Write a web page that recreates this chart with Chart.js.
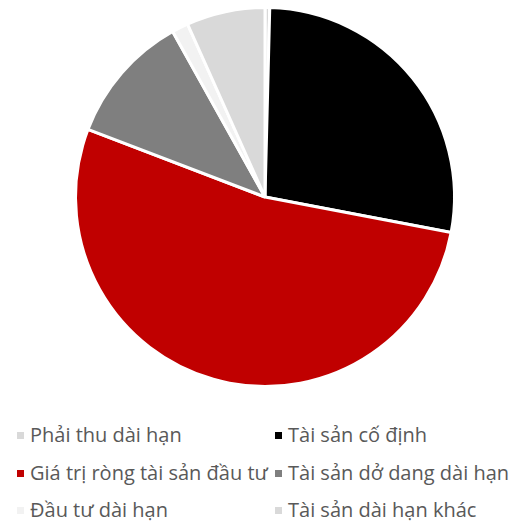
<!DOCTYPE html>
<html>
<head>
<meta charset="utf-8">
<script src="https://cdn.jsdelivr.net/npm/chart.js@4/dist/chart.umd.min.js"></script>
<style>
  body { margin: 0; background: #fff; width: 517px; height: 524px; overflow: hidden; }
  #wrap { position: relative; width: 517px; height: 394px; }
  #legend { position: absolute; left: 17px; top: 421px; width: 500px;
            font-family: "Open Sans", sans-serif; font-size: 20px; color: #595959; }
  .item { position: absolute; white-space: nowrap; line-height: 28px; }
  .box { display: inline-block; width: 7px; height: 7px; margin-right: 6px; vertical-align: 3px; }
</style>
</head>
<body>
<div id="wrap"><canvas id="pie_chart"></canvas></div>
<div id="legend"></div>
<script>
var categories = ["Phải thu dài hạn", "Tài sản cố định", "Giá trị ròng tài sản đầu tư",
                  "Tài sản dở dang dài hạn", "Đầu tư dài hạn", "Tài sản dài hạn khác"];
var shares = [0.4, 27.6, 52.8, 11.1, 1.4, 6.7];
var colors = ["#D9D9D9", "#000000", "#C00000", "#7F7F7F", "#F2F2F2", "#D9D9D9"];

var ctx = document.getElementById("pie_chart");

var pieChart = new Chart(ctx, {
    type: 'pie',
    data: {
        labels: categories,
        datasets: [{
            data: shares,
            backgroundColor: colors,
            borderColor: '#FFFFFF',
            borderWidth: 3
        }]
    },
    options: {
        responsive: true,
        maintainAspectRatio: false,
        animation: false,
        layout: { padding: { top: 6, bottom: 6, left: 13, right: 0 } },
        plugins: {
            legend: { display: false },
            tooltip: { enabled: false }
        }
    }
});

// two-column legend under the pie
var legend = document.getElementById("legend");
for (var i = 0; i < categories.length; i++) {
    var item = document.createElement("div");
    item.className = "item";
    item.style.left = (i % 2 === 0 ? 0 : 258) + "px";
    item.style.top = (Math.floor(i / 2) * 37.5) + "px";
    item.innerHTML = '<span class="box" style="background:' + colors[i] + '"></span>' + categories[i];
    legend.appendChild(item);
}
</script>
</body>
</html>
